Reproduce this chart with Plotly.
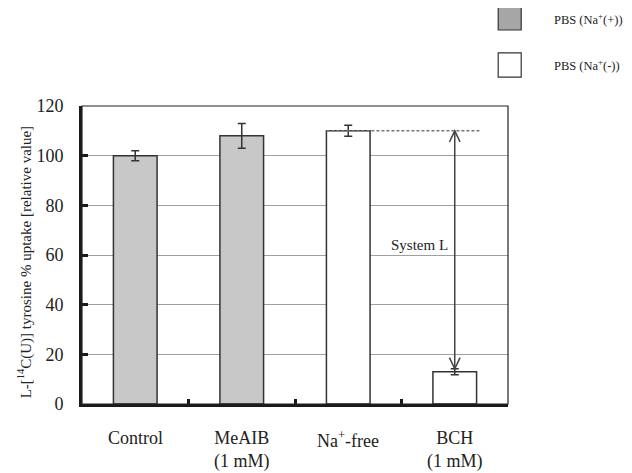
import plotly.graph_objects as go

# ---- data ----
categories = ["Control", "MeAIB<br>(1 mM)", "Na<sup>+</sup>-free", "BCH<br>(1 mM)"]
values = [100, 108, 110, 13]
errors = [2, 5, 2.2, 1.2]
fills = ["#c8c8c8", "#c8c8c8", "#ffffff", "#ffffff"]
legend_labels = ["PBS (Na<sup>+</sup>(+))", "PBS (Na<sup>+</sup>(-))"]
legend_fills = ["#a6a6a6", "#ffffff"]
y_ticks = [0, 20, 40, 60, 80, 100, 120]
annotation_text = "System L"
y_title = "L-[<sup>14</sup>C(U)] tyrosine % uptake [relative value]"

xpos = list(range(len(categories)))
FONT = "Liberation Serif, Times New Roman, serif"

fig = go.Figure()
fig.add_trace(go.Bar(
    x=xpos, y=values, width=0.41,
    marker=dict(color=fills, line=dict(color="#333333", width=1.5)),
    error_y=dict(type="data", array=errors, color="#333333", thickness=1.5, width=4),
    showlegend=False,
))

# System L arrow: from Na-free level to BCH level at BCH position
top_v = values[2]
bot_v = values[3] + errors[3]
ax_x = xpos[3]
hw = 0.05   # half width of open arrow head (x units)
hh = 4.5    # arrow head height (y units)
line_style = dict(color="#444444", width=1.5)
fig.add_shape(type="line", x0=ax_x, x1=ax_x, y0=bot_v, y1=top_v, line=line_style)
fig.add_shape(type="path",
              path=f"M {ax_x-hw},{top_v-hh} L {ax_x},{top_v} L {ax_x+hw},{top_v-hh}",
              line=line_style)
fig.add_shape(type="path",
              path=f"M {ax_x-hw},{bot_v+hh} L {ax_x},{bot_v} L {ax_x+hw},{bot_v+hh}",
              line=line_style)
# dashed reference line at Na-free level
fig.add_shape(type="line", x0=xpos[2] - 0.205, x1=xpos[3] + 0.25, y0=top_v, y1=top_v,
              line=dict(color="#777777", width=1.5, dash="3px,2px"))
fig.add_annotation(x=ax_x - 0.04, y=64, text=annotation_text, showarrow=False,
                   xanchor="right", font=dict(family=FONT, size=15, color="#222222"))

# category labels
for xi, lab in zip(xpos, categories):
    fig.add_annotation(x=xi, y=0, yref="y", text=lab, showarrow=False,
                       yanchor="top", yshift=-22,
                       font=dict(family=FONT, size=18, color="#222222"))

# y axis title
fig.add_annotation(xref="paper", yref="paper", x=-0.134, y=0.475, text=y_title,
                   textangle=-90, showarrow=False, xanchor="center", yanchor="middle",
                   font=dict(family=FONT, size=15, color="#222222"))

# top/right thin frame
fig.add_shape(type="rect", xref="paper", yref="paper", x0=0, x1=1, y0=0, y1=1,
              line=dict(color="#222222", width=1.2), layer="above")

# legend (manual)
leg_y = [(1.255, 1.332), (1.097, 1.178)]
for (y0, y1), lab, fc in zip(leg_y, legend_labels, legend_fills):
    fig.add_shape(type="rect", xref="paper", yref="paper", x0=0.977, x1=1.031,
                  y0=y0, y1=y1, fillcolor=fc, line=dict(color="#333333", width=1.2))
    fig.add_annotation(xref="paper", yref="paper", x=1.104, y=(y0 + y1) / 2,
                       text=lab, showarrow=False, xanchor="left", yanchor="middle",
                       font=dict(family=FONT, size=12.5, color="#222222"))

fig.update_layout(
    width=632, height=473,
    margin=dict(l=74, r=132, t=98, b=77),
    paper_bgcolor="white", plot_bgcolor="white",
    font=dict(family=FONT, color="#222222"),
    bargap=0.5,
)
fig.update_xaxes(
    range=[-0.5, 3.5], showgrid=False, zeroline=False,
    showline=True, linewidth=3, linecolor="#1a1a1a",
    tickvals=[0.5, 1.5, 2.5], ticktext=["", "", ""],
    ticks="inside", ticklen=5, tickwidth=3, tickcolor="#1a1a1a",
)
fig.update_yaxes(
    range=[0, 120], tickvals=y_ticks,
    showgrid=True, gridcolor="#a0a0a0", gridwidth=1,
    zeroline=False, showline=True, linewidth=3, linecolor="#1a1a1a",
    ticks="inside", ticklen=6, tickwidth=3, tickcolor="#1a1a1a",
    tickfont=dict(family=FONT, size=18, color="#222222"),
    ticklabelstandoff=12,
)

fig.write_html("out.html")
